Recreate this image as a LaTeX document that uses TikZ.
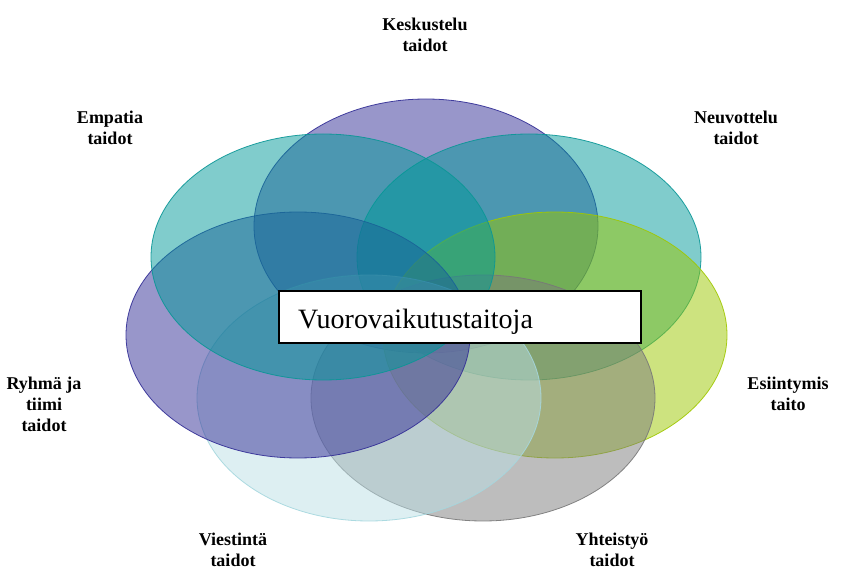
\documentclass[tikz,border=0pt]{standalone}
\usepackage{fontspec}
\setmainfont{Liberation Serif}
\usetikzlibrary{shapes.geometric}

\definecolor{violetfill}{RGB}{49,45,149}
\definecolor{violetline}{RGB}{50,45,150}
\definecolor{tealfill}{RGB}{1,153,153}
\definecolor{tealline}{RGB}{10,150,150}
\definecolor{limefill}{RGB}{155,199,0}
\definecolor{limeline}{RGB}{160,200,0}
\definecolor{greyfill}{RGB}{123,123,123}
\definecolor{greyline}{RGB}{120,120,120}
\definecolor{icefill}{RGB}{187,223,229}
\definecolor{iceline}{RGB}{165,215,222}

\tikzset{
  petal/.style={ellipse, minimum width=344pt, minimum height=246pt, inner sep=0pt,
                draw=#1line, fill=#1fill, fill opacity=0.5, draw opacity=0.9, line width=0.8pt},
  skill/.style={font=\bfseries\fontsize{18}{21}\selectfont, align=center, inner sep=0pt},
  titlebox/.style={draw=black, line width=1.6pt, fill=white, minimum width=362pt, minimum height=52pt,
                   inner sep=0pt},
}

\begin{document}
\begin{tikzpicture}[x=1pt, y=-1pt]
  \useasboundingbox (0,0) rectangle (844,572);

  % overlapping petals, drawn clockwise from the top
  \node[petal=violet, minimum height=254pt] (keskustelu) at (426,226) {};
  \node[petal=teal] (neuvottelu) at (529,257) {};
  \node[petal=lime] (esiintymis) at (555,335) {};
  \node[petal=grey] (yhteistyo)  at (483,398) {};
  \node[petal=ice]  (viestinta)  at (369,398) {};
  \node[petal=violet] (ryhma)    at (298,335) {};
  \node[petal=teal] (empatia)    at (323,257) {};

  % central title
  \node[titlebox] (title) at (460,317) {};
  \node[anchor=base west, inner sep=0pt, font=\fontsize{28}{30}\selectfont] (titletext)
    at (298,328) {Vuorovaikutustaitoja};

  % skill labels
  \node[skill] (lkeskustelu) at (425,35)  {Keskustelu\\taidot};
  \node[skill] (lempatia)    at (110,128) {Empatia\\taidot};
  \node[skill] (lneuvottelu) at (736,128) {Neuvottelu\\taidot};
  \node[skill] (lryhma)      at (44,404)  {Ryhmä ja\\tiimi\\taidot};
  \node[skill] (lesiintymis) at (788,394) {Esiintymis\\taito};
  \node[skill] (lviestinta)  at (233,550) {Viestintä\\taidot};
  \node[skill] (lyhteistyo)  at (612,550) {Yhteistyö\\taidot};
\end{tikzpicture}
\end{document}
